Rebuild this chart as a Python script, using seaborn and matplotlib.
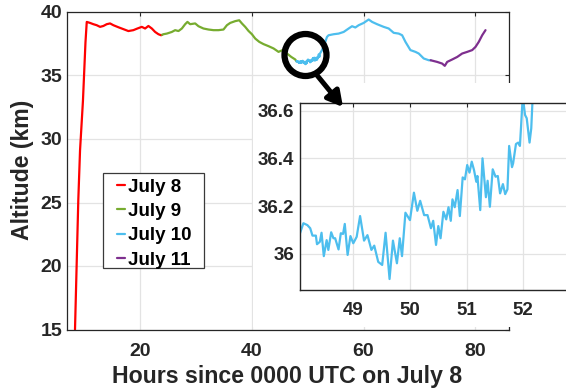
import matplotlib
matplotlib.use("Agg")
import matplotlib.pyplot as plt
import pandas as pd
import seaborn as sns
from matplotlib.lines import Line2D
from matplotlib.patches import Circle, Rectangle, FancyArrowPatch, ArrowStyle

# Balloon altitude (km) against hours since 0000 UTC on July 8, split by UTC day
day_labels = ["July 8", "July 9", "July 10", "July 11"]
day_colors = ["#FF0000", "#77AC30", "#4DBEEE", "#7E2F8E"]

july8_hours = [8.43, 9.02, 9.33, 9.85, 10.30, 10.53, 11.12, 11.71, 12.31,
               12.91, 13.50, 14.10, 14.70, 15.29, 16.18, 17.08, 17.97, 18.86,
               19.58, 20.37, 20.96, 21.55, 22.16, 22.75, 23.34, 23.82, 24.00]
july8_alt = [15.0, 25.2, 29.1, 33.0, 37.6, 39.22, 39.14, 39.04, 38.96,
             38.83, 38.90, 39.04, 39.10, 38.96, 38.80, 38.65, 38.50, 38.57,
             38.70, 38.83, 38.70, 38.90, 38.70, 38.43, 38.25, 38.17, 38.20]

july9_hours = [24.00, 24.23, 24.84, 25.74, 26.33, 26.92, 27.53, 28.12, 28.53,
               29.01, 29.91, 30.50, 31.39, 32.29, 33.18, 34.08, 34.97, 35.58,
               36.17, 37.06, 37.78, 38.26, 38.85, 39.44, 40.05, 40.64, 41.36,
               42.13, 43.02, 43.92, 44.81, 45.53, 46.32, 47.09, 47.80, 48.00]
july9_alt = [38.20, 38.25, 38.30, 38.43, 38.57, 38.50, 38.70, 39.04, 39.22,
             39.04, 39.10, 38.88, 38.70, 38.62, 38.57, 38.57, 38.62, 38.96,
             39.14, 39.28, 39.35, 39.10, 38.83, 38.51, 38.25, 37.91, 37.65,
             37.47, 37.31, 37.13, 36.86, 37.00, 36.73, 36.46, 36.26, 36.12]

july10_hours = [48.00, 48.06, 48.12, 48.19, 48.24, 48.28, 48.34, 48.36, 48.41,
                48.44, 48.48, 48.53, 48.56, 48.61, 48.65, 48.68, 48.74, 48.78,
                48.82, 48.85, 48.90, 48.95, 49.00, 49.06, 49.12, 49.19, 49.25,
                49.32, 49.37, 49.44, 49.51, 49.57, 49.64, 49.70, 49.77, 49.82,
                49.86, 49.92, 50.00, 50.07, 50.13, 50.18, 50.25, 50.31, 50.37,
                50.41, 50.46, 50.50, 50.54, 50.59, 50.64, 50.68, 50.72, 50.75,
                50.79, 50.84, 50.88, 50.93, 50.97, 51.01, 51.05, 51.09, 51.13,
                51.17, 51.19, 51.24, 51.28, 51.34, 51.37, 51.41, 51.46, 51.51,
                51.55, 51.59, 51.64, 51.68, 51.72, 51.75, 51.80, 51.82, 51.87,
                51.91, 51.94, 51.96, 51.99, 52.03, 52.06, 52.11, 52.14, 52.16,
                52.20, 52.58, 53.17, 53.47, 53.76, 54.66, 55.55, 56.45, 57.34,
                57.95, 58.54, 59.13, 60.03, 60.92, 61.53, 62.42, 63.60, 64.50,
                65.39, 66.29, 66.90, 67.49, 68.38, 69.28, 69.87, 70.76, 71.66,
                72.00]
july10_alt = [36.120, 36.086, 36.128, 36.120, 36.107, 36.076, 36.076, 36.040,
              36.050, 36.088, 35.990, 36.057, 36.016, 36.090, 36.065, 36.065,
              36.018, 36.086, 36.083, 36.125, 35.995, 36.074, 36.044, 36.071,
              36.158, 36.055, 36.078, 36.016, 36.034, 35.966, 35.953, 36.088,
              35.894, 36.055, 35.960, 36.065, 35.990, 36.172, 36.141, 36.256,
              36.180, 36.222, 36.162, 36.162, 36.107, 36.138, 36.037, 36.116,
              36.065, 36.176, 36.144, 36.195, 36.138, 36.228, 36.195, 36.267,
              36.158, 36.320, 36.312, 36.372, 36.340, 36.386, 36.351, 36.302,
              36.326, 36.183, 36.400, 36.237, 36.306, 36.197, 36.354, 36.323,
              36.326, 36.253, 36.292, 36.250, 36.270, 36.452, 36.363, 36.379,
              36.460, 36.466, 36.452, 36.533, 36.660, 36.582, 36.568, 36.466,
              36.526, 36.631, 36.720, 37.00, 37.65, 38.04, 38.17, 38.25, 38.30,
              38.43, 38.70, 38.88, 38.78, 38.96, 39.14, 39.41, 39.22, 39.04,
              38.83, 38.70, 38.36, 38.30, 38.17, 37.65, 37.00, 36.86, 36.73,
              36.34, 36.20, 36.20]

july11_hours = [72.00, 73.16, 74.05, 74.52, 74.95, 75.84, 76.74, 77.63, 78.53,
                79.42, 80.01, 80.60, 81.21, 81.80]
july11_alt = [36.20, 36.07, 35.94, 35.76, 36.07, 36.26, 36.46, 36.73, 36.86,
              37.00, 37.25, 37.65, 38.17, 38.57]

x_ticks = [20, 40, 60, 80]
y_ticks = [15, 20, 25, 30, 35, 40]
zoom_x_ticks = [49, 50, 51, 52]
zoom_y_ticks = [36.0, 36.2, 36.4, 36.6]
zoom_y_labels = ["36", "36.2", "36.4", "36.6"]

sns.set_theme(style="white")
plt.rcParams["font.family"] = ["Liberation Sans", "DejaVu Sans"]
plt.rcParams["font.weight"] = "bold"
plt.rcParams["axes.labelweight"] = "bold"

INK = "#262626"
GRID = "#e3e3e3"
W, H = 566, 390


def fx(px):
    return px / W


def fy(py):
    return 1.0 - py / H


fig = plt.figure(figsize=(W / 100, H / 100), dpi=100)
fig.patch.set_facecolor("white")

# ---- main trajectory ----
ax = fig.add_axes([fx(67), fy(329.5), fx(509) - fx(67), fy(12) - fy(329.5)])
ax.set_facecolor("white")

frames = []
for label, hrs, alt in zip(day_labels,
                           [july8_hours, july9_hours, july10_hours, july11_hours],
                           [july8_alt, july9_alt, july10_alt, july11_alt]):
    frames.append(pd.DataFrame({"hours": hrs, "altitude": alt, "day": label}))
flight = pd.concat(frames, ignore_index=True)

sns.lineplot(data=flight, x="hours", y="altitude", hue="day",
             palette=dict(zip(day_labels, day_colors)), estimator=None,
             sort=False, lw=1.6, legend=False, ax=ax)

ax.set_xlim(7, 86)
ax.set_ylim(15, 40)
ax.set_xticks(x_ticks)
ax.set_yticks(y_ticks)
ax.grid(True, color=GRID, lw=0.9)
ax.set_axisbelow(True)
for s in ax.spines.values():
    s.set_visible(True)
    s.set_color(INK)
    s.set_linewidth(0.9)
ax.tick_params(axis="both", direction="in", length=3, width=0.8, color=INK,
               labelcolor=INK, labelsize=14, top=True, right=True)
ax.tick_params(axis="x", pad=9.9)
ax.tick_params(axis="y", pad=3.5)

ax.set_xlabel("Hours since 0000 UTC on July 8", fontsize=16.7, color=INK,
              fontweight="bold")
ax.xaxis.set_label_coords(fx(287), fy(383.3), transform=fig.transFigure)
ax.xaxis.label.set_va("baseline")
ax.set_ylabel("Altitude (km)", fontsize=16.6, color=INK, fontweight="bold")
ax.yaxis.set_label_coords(fx(29.5), fy(170), transform=fig.transFigure)
ax.yaxis.label.set_va("baseline")

# legend with its own square frame
legend_box = Rectangle((fx(102.7), fy(268.3)), fx(204.3) - fx(102.7),
                       fy(172.7) - fy(268.3), transform=fig.transFigure,
                       facecolor="white", edgecolor="#3a3a3a", lw=0.9, zorder=4)
ax.add_artist(legend_box)
handles = [Line2D([], [], color=c, lw=1.6) for c in day_colors]
leg = ax.legend(handles, day_labels, loc="upper left",
                bbox_to_anchor=(fx(116.7), fy(178.5)),
                bbox_transform=fig.transFigure, frameon=False, borderpad=0,
                borderaxespad=0, handlelength=0.45, handletextpad=0.15,
                labelspacing=0.39, prop={"size": 13.5, "weight": "bold"})
leg.set_zorder(5)
for t in leg.get_texts():
    t.set_color("black")

# blank backing behind the zoom panel
backing = Rectangle((fx(253), fy(327)), 1.0 - fx(253), fy(83) - fy(327),
                    transform=fig.transFigure, facecolor="white",
                    edgecolor="none", zorder=1)
fig.add_artist(backing)

# ---- zoom panel around hours 48-52 ----
axin = fig.add_axes([fx(300), fy(290), fx(580) - fx(300), fy(103) - fy(290)],
                    zorder=3)
axin.set_facecolor("white")
sns.lineplot(x=july10_hours, y=july10_alt, color=day_colors[2], lw=1.6,
             estimator=None, sort=False, ax=axin)
axin.set_xlim(48.06, 53.0)
axin.set_ylim(35.848, 36.632)
axin.set_xticks(zoom_x_ticks)
axin.set_yticks(zoom_y_ticks)
axin.set_yticklabels(zoom_y_labels)
axin.grid(True, color=GRID, lw=0.9)
axin.set_axisbelow(True)
for s in axin.spines.values():
    s.set_visible(True)
    s.set_color(INK)
    s.set_linewidth(1.0)
axin.tick_params(axis="both", direction="in", length=3, width=0.8, color=INK,
                 labelcolor=INK, labelsize=13.5, top=True, right=False)
axin.tick_params(axis="x", pad=8.4)
axin.tick_params(axis="y", pad=4.3)
axin.set_xlabel("")
axin.set_ylabel("")

# ---- magnifier glyph ----
lens = Circle((305.5 / 100, (H - 55) / 100), 21 / 100,
              transform=fig.dpi_scale_trans, fill=False, edgecolor="black",
              lw=4.5, zorder=6)
fig.add_artist(lens)
handle = FancyArrowPatch((fx(316), fy(74)), (fx(343), fy(107)),
                         transform=fig.transFigure,
                         arrowstyle=ArrowStyle("-|>", head_length=0.9, head_width=0.5),
                         mutation_scale=10, lw=3.6, color="black",
                         shrinkA=0, shrinkB=0, zorder=6)
fig.add_artist(handle)

fig.savefig("out.png", dpi=100)
